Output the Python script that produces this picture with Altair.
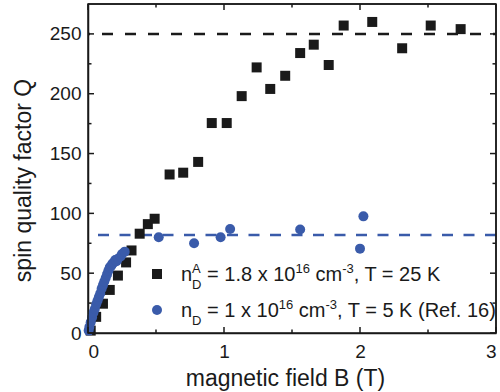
import altair as alt
import pandas as pd

# Sample A: n_D^A = 1.8e16 cm^-3, T = 25 K
B_sq = [0.02, 0.06, 0.11, 0.16, 0.22, 0.28, 0.32, 0.38, 0.44, 0.49,
        0.60, 0.70, 0.81, 0.91, 1.02, 1.13, 1.24, 1.34, 1.45, 1.56,
        1.66, 1.77, 1.88, 2.09, 2.31, 2.52, 2.74]
Q_sq = [2, 13.5, 24.5, 36, 48, 59, 69, 83, 91, 95.5,
        132.5, 134, 143, 175.5, 175.5, 198, 222, 204, 215, 234,
        241, 224, 257, 260, 238, 257, 254]

# Reference sample: n_D = 1e16 cm^-3, T = 5 K (Ref. 16)
B_ci = [0.005, 0.01, 0.02, 0.03, 0.04, 0.05, 0.06, 0.07, 0.08, 0.09,
        0.10, 0.11, 0.12, 0.13, 0.14, 0.15, 0.16, 0.17, 0.18, 0.19,
        0.20, 0.21, 0.22, 0.24, 0.25, 0.27,
        0.52, 0.78, 0.975, 1.045, 1.56, 2.00, 2.025]
Q_ci = [2, 5, 9, 13, 17, 20, 24, 27, 30, 33,
        37, 40, 43, 46, 49, 52, 55, 56, 58, 59,
        61, 60, 62, 64, 66, 68,
        80, 75, 80, 87, 86.5, 70.5, 97.5]

# Saturation levels (dashed guides)
Q_sat_A = 250
Q_sat_ref = 82

x_ticks = [0, 1, 2, 3]
x_minor = [0.5, 1.5, 2.5]
y_ticks = [0, 50, 100, 150, 200, 250]
y_minor = [25, 75, 125, 175, 225]

X_MIN, X_MAX = 0, 3
Y_MIN, Y_MAX = 0, 275

FONT = "Liberation Sans"
INK = "#1a1a1a"
BLUE = "#3A5BAA"
W_PLOT, H_PLOT = 408, 329

sq = pd.DataFrame({"B": B_sq, "Q": Q_sq})
ci = pd.DataFrame({"B": B_ci, "Q": Q_ci})

xs = alt.Scale(domain=[X_MIN, X_MAX], nice=False, zero=False)
ys = alt.Scale(domain=[Y_MIN, Y_MAX], nice=False)


def X(field):
    return alt.X(field, scale=xs, axis=None)


def Y(field):
    return alt.Y(field, scale=ys, axis=None)


labels = alt.Chart(sq).mark_point(opacity=0).encode(
    x=alt.X("B:Q", scale=xs, axis=alt.Axis(
        orient="bottom", values=x_ticks, format="d", domain=True,
        domainColor=INK, domainWidth=1.5, ticks=False,
        grid=False, labelPadding=9, labelFontSize=19, labelFont=FONT,
        labelColor=INK, title="magnetic field B (T)", titleFont=FONT,
        titleFontSize=23, titleFontWeight="normal", titleColor=INK,
        titleX=197, titleY=52, titleBaseline="alphabetic", titleAnchor="middle")),
    y=alt.Y("Q:Q", scale=ys, axis=alt.Axis(
        orient="left", values=y_ticks, format="d", domain=True,
        domainColor=INK, domainWidth=1.5, ticks=False,
        grid=False, labelPadding=7, labelFontSize=19, labelFont=FONT,
        labelColor=INK, title="spin quality factor Q", titleFont=FONT,
        titleFontSize=23, titleFontWeight="normal", titleColor=INK,
        titleX=-58, titleY=176, titleAngle=-90, titleBaseline="alphabetic",
        titleAnchor="middle")),
)

dash_sq = alt.Chart(pd.DataFrame({"Q": [Q_sat_A]})).mark_rule(
    color=INK, strokeWidth=2.5, strokeDash=[11, 12], strokeDashOffset=8
).encode(y=Y("Q:Q"))

dash_ci = alt.Chart(pd.DataFrame({"Q": [Q_sat_ref]})).mark_rule(
    color=BLUE, strokeWidth=2.5, strokeDash=[11, 10.5]
).encode(y=Y("Q:Q"))

squares = alt.Chart(sq).mark_point(
    shape="square", filled=True, size=100, color=INK, opacity=1
).encode(x=X("B:Q"), y=Y("Q:Q"))

circles = alt.Chart(ci).mark_circle(size=100, color=BLUE, opacity=1).encode(
    x=X("B:Q"), y=Y("Q:Q"))

# Legend, built from text runs with sub- and superscripts
MAIN, SMALL = 20, 13
W = {"n": .556, "=": .584, " ": .278, "1": .556, ".": .278, "8": .556,
     "x": .5, "0": .556, "6": .556, "c": .5, "m": .833, "-": .333,
     "3": .556, ",": .278, "T": .611, "2": .556, "5": .556, "K": .667,
     "(": .333, "R": .722, "e": .556, "f": .278, ")": .333, "A": .667,
     "D": .722}


def width(s, size):
    return sum(W[ch] for ch in s) * size


def place(marks, x, y, txt, size):
    # SVG drops leading blanks, so advance the pen over them instead
    lead = len(txt) - len(txt.lstrip(" "))
    x += lead * W[" "] * size
    body = txt.lstrip(" ")
    if body:
        marks.append((x, y, body, size))
    return x + width(body, size)


def legend_row(x0, base, runs):
    marks = []
    x = x0
    for kind, txt in runs:
        if kind == "stack":
            sup, sub = txt
            ends = [x]
            if sup:
                ends.append(place(marks, x, base - 8, sup, SMALL))
            if sub:
                ends.append(place(marks, x, base + 8, sub, SMALL))
            x = max(ends)
        elif kind == "sup":
            x = place(marks, x, base - 8, txt, SMALL)
        else:
            x = place(marks, x, base, txt, MAIN)
    return marks


row1 = legend_row(93, 277, [
    ("main", "n"), ("stack", ("A", "D")), ("main", " = 1.8 x 10"),
    ("sup", "16"), ("main", " cm"), ("sup", "-3"), ("main", ", T = 25 K")])
row2 = legend_row(93, 312.5, [
    ("main", "n"), ("stack", ("", "D")), ("main", " = 1 x 10"),
    ("sup", "16"), ("main", " cm"), ("sup", "-3"),
    ("main", ", T = 5 K (Ref. 16)")])

one = pd.DataFrame({"k": [0]})
legend = []
for (x, y, t, size) in row1 + row2:
    legend.append(alt.Chart(one).mark_text(
        text=t, font=FONT, fontSize=size, color=INK, align="left",
        baseline="alphabetic").encode(x=alt.value(x), y=alt.value(y)))

legend.append(alt.Chart(one).mark_point(
    shape="square", filled=True, size=100, color=INK, opacity=1
).encode(x=alt.value(69), y=alt.value(270)))
legend.append(alt.Chart(one).mark_circle(size=100, color=BLUE, opacity=1).encode(
    x=alt.value(69), y=alt.value(306)))

# Frame around the plot area
frame = alt.Chart(one).mark_rect(
    fill=None, filled=False, stroke=INK, strokeWidth=1.5, opacity=1
).encode(x=alt.value(0), x2=alt.value(W_PLOT), y=alt.value(0),
         y2=alt.value(H_PLOT))
top_edge = alt.Chart(pd.DataFrame({"Q": [Y_MAX]})).mark_rule(
    color=INK, strokeWidth=1.5).encode(y=Y("Q:Q"))
right_edge = alt.Chart(pd.DataFrame({"B": [X_MAX]})).mark_rule(
    color=INK, strokeWidth=1.5).encode(x=X("B:Q"))


# Inward ticks on all four sides, drawn as tick marks pushed half a length inside
def x_side_ticks(values, length):
    out = []
    for q, shift in ((Y_MIN, -length / 2), (Y_MAX, length / 2)):
        d = pd.DataFrame({"B": values, "Q": [q] * len(values)})
        out.append(alt.Chart(d).mark_tick(
            orient="vertical", size=length, thickness=1.5, color=INK,
            opacity=1, yOffset=shift).encode(x=X("B:Q"), y=Y("Q:Q")))
    return out


def y_side_ticks(values, length):
    out = []
    for b, shift in ((X_MIN, length / 2), (X_MAX, -length / 2)):
        d = pd.DataFrame({"B": [b] * len(values), "Q": values})
        out.append(alt.Chart(d).mark_tick(
            orient="horizontal", size=length, thickness=1.5, color=INK,
            opacity=1, xOffset=shift).encode(x=X("B:Q"), y=Y("Q:Q")))
    return out


ticks = (x_side_ticks(x_ticks, 6) + x_side_ticks(x_minor, 3.5)
         + y_side_ticks(y_ticks, 6) + y_side_ticks(y_minor, 3.5))

chart = alt.layer(
    labels, dash_sq, dash_ci, squares, circles, *legend,
    frame, top_edge, right_edge, *ticks,
).resolve_scale(x="independent", y="independent").resolve_axis(
    x="independent", y="independent"
).properties(
    width=W_PLOT, height=H_PLOT,
    autosize=alt.AutoSizeParams(type="none"),
    padding={"left": 88, "top": 4, "right": 4, "bottom": 59},
).configure_view(stroke=None)

chart.save("out.html", embed_options={"renderer": "svg", "actions": False})
